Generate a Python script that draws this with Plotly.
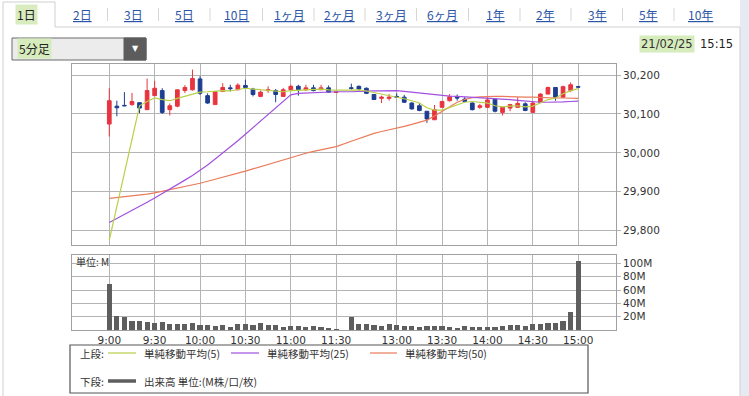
import plotly.graph_objects as go

W, H = 749, 396

# ---------------- data ----------------
times = ([f"{h}:{m:02d}" for h in (9, 10, 11) for m in range(0, 60, 5) if (h, m) <= (11, 30)] +
         [f"{h}:{m:02d}" for h in (12, 13, 14, 15) for m in range(0, 60, 5) if (12, 30) <= (h, m) <= (15, 0)])

opens = [30074, 30120, 30122, 30124, 30129, 30111, 30147, 30160, 30111, 30120,
         30160, 30162, 30190, 30147, 30124, 30158, 30167, 30162, 30173, 30164,
         30145, 30160, 30160, 30145, 30162, 30171, 30162, 30167, 30162, 30167, 30155,
         30167, 30171, 30166, 30150, 30140, 30140, 30145, 30143, 30128, 30121,
         30107, 30085, 30117, 30134, 30143, 30138, 30128, 30117, 30117, 30138,
         30104, 30115, 30117, 30126, 30104, 30130, 30151, 30168, 30143, 30160, 30170]
highs = [30166, 30134, 30156, 30154, 30129, 30191, 30185, 30166, 30127, 30162,
         30174, 30214, 30197, 30153, 30157, 30179, 30175, 30179, 30188, 30167,
         30160, 30171, 30164, 30167, 30175, 30175, 30175, 30175, 30175, 30173, 30157,
         30178, 30173, 30168, 30151, 30147, 30151, 30153, 30149, 30130, 30128,
         30107, 30123, 30132, 30151, 30150, 30143, 30130, 30126, 30143, 30141,
         30117, 30126, 30143, 30130, 30132, 30153, 30170, 30168, 30173, 30181, 30170]
lows = [30042, 30094, 30120, 30121, 30102, 30111, 30147, 30100, 30096, 30117,
        30154, 30160, 30149, 30126, 30124, 30156, 30158, 30162, 30164, 30145,
        30143, 30154, 30130, 30145, 30160, 30147, 30160, 30158, 30162, 30154, 30154,
        30162, 30160, 30151, 30137, 30128, 30134, 30141, 30128, 30111, 30107,
        30077, 30085, 30117, 30132, 30134, 30132, 30109, 30113, 30115, 30104,
        30096, 30107, 30117, 30107, 30104, 30128, 30151, 30134, 30141, 30156, 30168]
closes = [30134, 30116, 30121, 30132, 30115, 30160, 30166, 30104, 30121, 30162,
          30168, 30191, 30153, 30128, 30157, 30168, 30165, 30174, 30168, 30150,
          30156, 30162, 30150, 30162, 30171, 30162, 30167, 30160, 30167, 30156, 30156,
          30166, 30164, 30153, 30137, 30143, 30143, 30143, 30130, 30113, 30109,
          30087, 30111, 30132, 30144, 30141, 30132, 30111, 30121, 30136, 30107,
          30117, 30124, 30127, 30109, 30128, 30151, 30168, 30143, 30170, 30175, 30169]

ma5 = [29776, 29862, 29949, 30036, 30121, 30132, 30141, 30137, 30134, 30140,
       30145, 30152, 30156, 30157, 30158, 30160, 30159, 30162, 30166, 30164,
       30162, 30161, 30158, 30157, 30160, 30161, 30162, 30163, 30164, 30162, 30161,
       30161, 30162, 30159, 30155, 30152, 30148, 30144, 30139, 30134, 30128,
       30116, 30110, 30110, 30117, 30123, 30130, 30132, 30130, 30128, 30121,
       30118, 30120, 30121, 30118, 30120, 30128, 30137, 30141, 30152, 30160, 30165]
ma25 = [29821, 29831, 29842, 29852, 29863, 29873, 29884, 29895, 29906, 29918,
        29930, 29942, 29955, 29969, 29984, 29999, 30015, 30031, 30048, 30065,
        30082, 30099, 30116, 30133, 30149, 30153, 30154, 30155, 30156, 30157, 30157,
        30157, 30158, 30159, 30159, 30159, 30160, 30160, 30158, 30156, 30154,
        30151, 30149, 30147, 30146, 30145, 30144, 30143, 30141, 30140, 30139,
        30138, 30137, 30135, 30133, 30131, 30130, 30130, 30130, 30131, 30132, 30133]
ma50 = [29883, 29885, 29887, 29889, 29891, 29894, 29897, 29901, 29905, 29909,
        29913, 29917, 29922, 29927, 29932, 29937, 29942, 29947, 29953, 29959,
        29965, 29971, 29977, 29983, 29989, 29994, 29999, 30004, 30008, 30012, 30016,
        30030, 30037, 30044, 30050, 30055, 30059, 30063, 30068, 30073, 30078,
        30084, 30095, 30107, 30119, 30130, 30137, 30142, 30144, 30145, 30145,
        30145, 30144, 30144, 30143, 30143, 30142, 30142, 30141, 30141, 30140, 30140]
volume = [69, 21, 19, 14, 14, 12.5, 11, 12.5, 9.5, 8.5, 8.5, 10, 7, 7, 6, 7, 4, 8.5, 8.5, 7,
          10, 7, 7, 5, 5.5, 5.5, 4.5, 5.5, 4.5, 3, 0.3,
          19, 8.5, 8.5, 7, 5.5, 8.5, 7, 5.5, 5.5, 4.5, 5.5, 5.5, 5.5, 4.5, 3, 5.5,
          4.5, 4.5, 4.5, 4.5, 6, 7, 7, 6, 8.5, 8.5, 11, 10, 13, 26.5, 103.5]

time_ticks = ["9:00", "9:30", "10:00", "10:30", "11:00", "11:30",
              "13:00", "13:30", "14:00", "14:30", "15:00"]
price_ticks = [29800, 29900, 30000, 30100, 30200]
vol_ticks = [20, 40, 60, 80, 100]
tabs = ["1日", "2日", "3日", "5日", "10日", "1ヶ月", "2ヶ月", "3ヶ月", "6ヶ月",
        "1年", "2年", "3年", "5年", "10年"]


def slot(t):
    h, m = map(int, t.split(":"))
    mins = (h - 9) * 60 + m
    return mins / 5 if mins <= 150 else 32 + (mins - 210) / 5


xs = [slot(t) for t in times]
tickpos = [slot(t) for t in time_ticks]

RED, BLUE = "#e8343f", "#1d3d91"
GRID = "#b4b4b4"


def X(p):
    return p / W


def Y(p):
    return 1 - p / H


fig = go.Figure()
fig.add_trace(go.Scatter(x=xs, y=ma50, mode="lines", line=dict(color="#ea7b5b", width=1.2),
                         connectgaps=True, showlegend=False, hoverinfo="skip"))
fig.add_trace(go.Scatter(x=xs, y=ma25, mode="lines", line=dict(color="#a150e0", width=1.2),
                         connectgaps=True, showlegend=False, hoverinfo="skip"))
fig.add_trace(go.Scatter(x=xs, y=ma5, mode="lines", line=dict(color="#b8d048", width=1.2),
                         connectgaps=True, showlegend=False, hoverinfo="skip"))
fig.add_trace(go.Candlestick(x=xs, open=opens, high=highs, low=lows, close=closes,
                             increasing=dict(line=dict(color=RED, width=1), fillcolor=RED),
                             decreasing=dict(line=dict(color=BLUE, width=1), fillcolor=BLUE),
                             whiskerwidth=0, showlegend=False))
fig.add_trace(go.Bar(x=xs, y=volume, marker=dict(color="#5e5e5e", line=dict(width=0)),
                     width=0.68, xaxis="x2", yaxis="y2", showlegend=False))

xr = [-4.93, 67.0]
axfont = dict(family="DejaVu Sans", size=10.5, color="#333")
common_x = dict(range=xr, tickvals=tickpos, ticktext=time_ticks, showgrid=True,
                gridcolor=GRID, gridwidth=1, zeroline=False, showline=True, mirror=True,
                linecolor="#a0a0a0", linewidth=1, ticks="", tickfont=axfont)

fig.update_layout(
    width=W, height=H, margin=dict(l=0, r=0, t=0, b=0),
    paper_bgcolor="white", plot_bgcolor="white", bargap=0,
    xaxis=dict(domain=[X(72), X(616)], anchor="y", showticklabels=False,
               rangeslider=dict(visible=False), **common_x),
    yaxis=dict(domain=[Y(245), Y(64)], range=[29763.3, 30228.3], side="right",
               tickvals=price_ticks, ticktext=[f"{v:,}" for v in price_ticks],
               showgrid=True, gridcolor=GRID, zeroline=False, showline=True, mirror=True,
               linecolor="#a0a0a0", ticks="outside", ticklen=4, tickcolor=GRID,
               tickfont=axfont),
    xaxis2=dict(domain=[X(72), X(616)], anchor="y2", showticklabels=True, **common_x),
    yaxis2=dict(domain=[Y(330), Y(255)], range=[0, 112.5], side="right",
                tickvals=vol_ticks, ticktext=[f"{v}M" for v in vol_ticks],
                showgrid=True, gridcolor=GRID, zeroline=False, showline=True, mirror=True,
                linecolor="#a0a0a0", ticks="outside", ticklen=4, tickcolor=GRID,
                tickfont=axfont),
)

shapes = []
ann = []
JP = "Noto Sans CJK JP"


def text(x, y, t, font, xanchor="left", **kw):
    ann.append(dict(x=X(x), y=Y(y), xref="paper", yref="paper", text=t, showarrow=False,
                    xanchor=xanchor, yanchor="middle", font=font, **kw))


def line(x0, y0, x1, y1, color, width=1):
    shapes.append(dict(type="line", xref="paper", yref="paper", x0=X(x0), x1=X(x1),
                       y0=Y(y0), y1=Y(y1), line=dict(color=color, width=width)))


# page frame
shapes.append(dict(type="rect", xref="paper", yref="paper", x0=X(740), x1=X(749), y0=Y(396), y1=Y(0),
                   fillcolor="#e7ebf1", line=dict(width=0), layer="below"))
line(55, 27, 740, 27, "#cfcfcf")
line(55, 27, 55, 2, "#cfcfcf")
line(3, 2, 55, 2, "#cfcfcf")
line(3, 2, 3, 396, "#cfcfcf")
line(740, 27, 740, 396, "#cfcfcf")

# tabs
tab_x = [26, 82, 133, 184, 236, 289, 339, 391, 442, 495, 545, 597, 648, 700]
for i, (t, cx) in enumerate(zip(tabs, tab_x)):
    if i == 0:
        text(cx, 14, t, dict(family=JP, size=12, color="#222"), "center",
             bgcolor="#d8ecbf", borderpad=1)
    else:
        text(cx, 14, f"<u>{t}</u>", dict(family=JP, size=12, color="#2b56a8"), "center")
    if i >= 2:
        sx = (tab_x[i - 1] + cx) / 2
        line(sx, 8, sx, 21, "#d5d5d5")

# dropdown
shapes.append(dict(type="rect", xref="paper", yref="paper", x0=X(12), x1=X(146), y0=Y(60), y1=Y(38),
                   fillcolor="#ececec", line=dict(color="#6a6a6a", width=1)))
shapes.append(dict(type="rect", xref="paper", yref="paper", x0=X(124), x1=X(146), y0=Y(60), y1=Y(38),
                   fillcolor="#5c5c5c", line=dict(color="#5c5c5c", width=1)))
text(135, 49, "▼", dict(family="DejaVu Sans", size=8, color="white"), "center")
text(17, 49, "5分足", dict(family=JP, size=12, color="#222"), bgcolor="#d6ecbc")

# date/time
text(695, 44, "21/02/25", dict(family="DejaVu Sans", size=11.5, color="#333"), "right",
     bgcolor="#d6ecbc")
text(698, 44, "15:15", dict(family="DejaVu Sans", size=11.5, color="#222"))

# volume unit label
text(74, 261, "単位: M", dict(family=JP, size=10, color="#333"))

# legend box
shapes.append(dict(type="rect", xref="paper", yref="paper", x0=X(70), x1=X(588), y0=Y(393), y1=Y(345),
                   line=dict(color="#555", width=1.2), fillcolor="rgba(0,0,0,0)"))
lf = dict(family=JP, size=10.5, color="#333")
text(78, 353, "上段:", lf)
text(78, 381, "下段:", lf)
leg_items = [(108, 136, "#b8d048", 1.2, 353, "単純移動平均(5)"),
             (231, 259, "#a150e0", 1.2, 353, "単純移動平均(25)"),
             (370, 397, "#ea7b5b", 1.2, 353, "単純移動平均(50)"),
             (108, 136, "#5e5e5e", 3.5, 381, "出来高 単位:(M株/口/枚)")]
for x0, x1, c, w, yy, txt in leg_items:
    line(x0, yy, x1, yy, c, w)
    text(x1 + 6, yy, txt, lf)

fig.update_layout(shapes=shapes, annotations=ann)
fig.write_html("out.html", config={"displayModeBar": False},
               post_script="document.body.style.margin='0px';")
